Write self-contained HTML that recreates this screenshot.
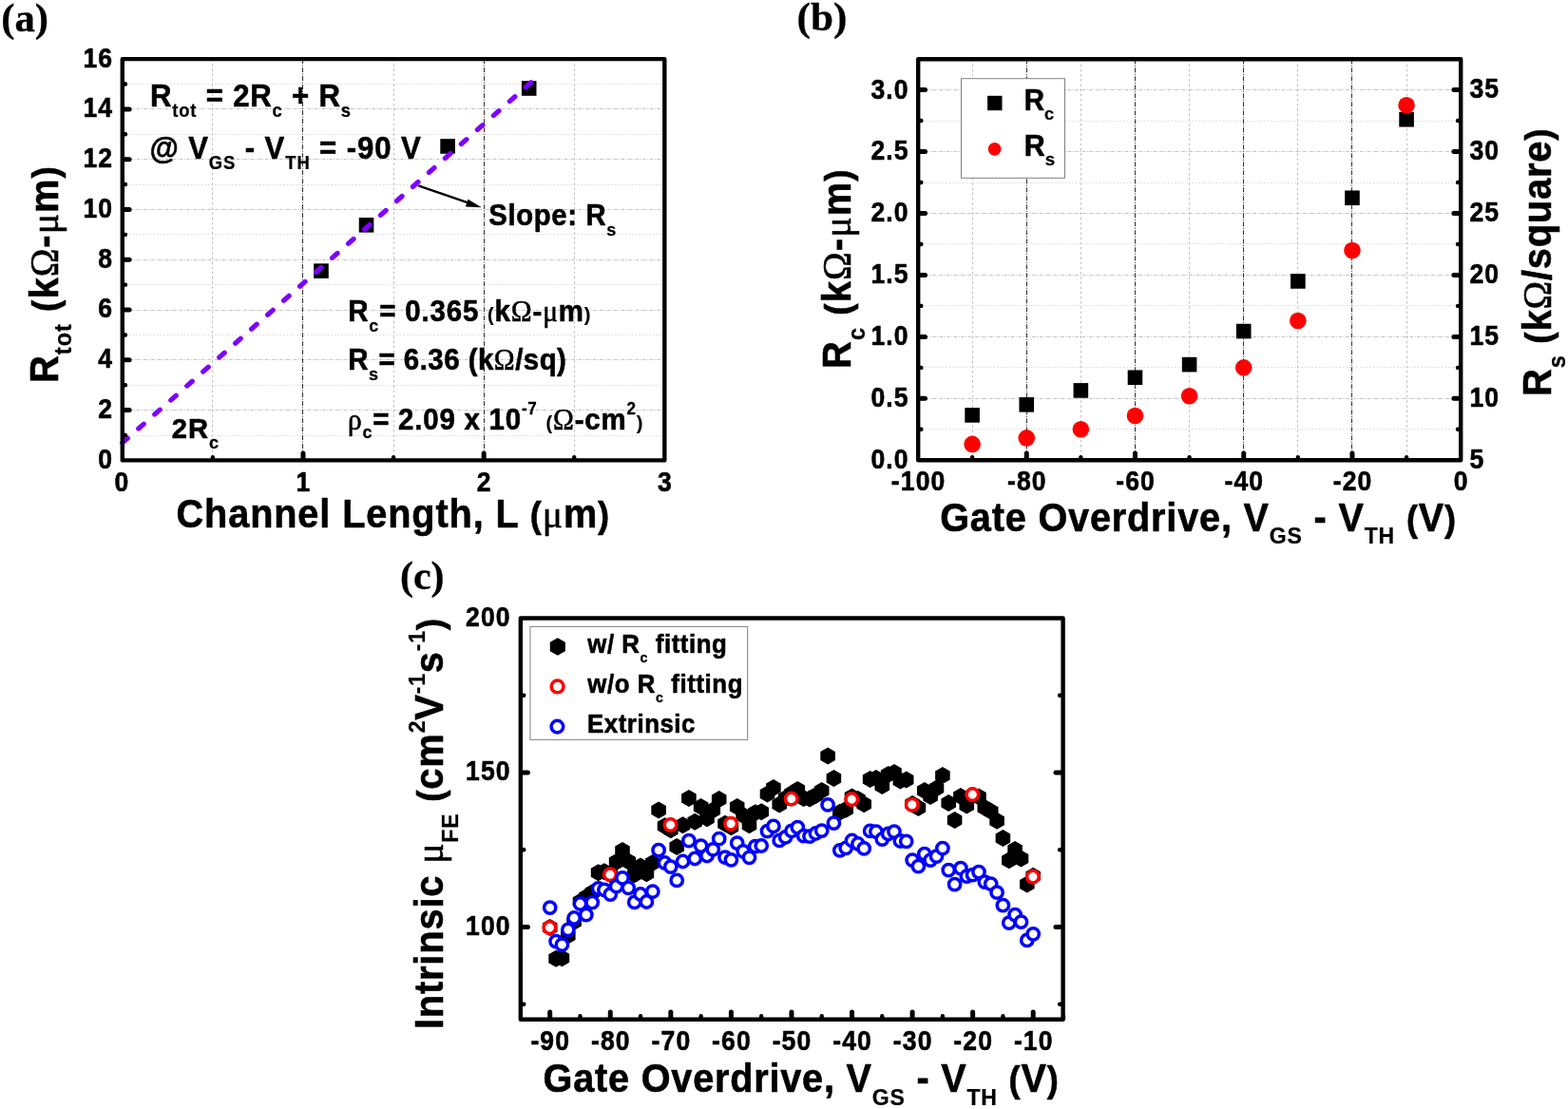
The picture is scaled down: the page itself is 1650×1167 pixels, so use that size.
<!DOCTYPE html>
<html lang="en">
<head>
<meta charset="utf-8">
<title>Contact resistance, sheet resistance and field-effect mobility</title>
<style>
html,body{margin:0;padding:0;background:#fff;}
body{width:1650px;height:1167px;overflow:hidden;}
svg{display:block;}
text{fill:#000;white-space:pre;}
</style>
</head>
<body>
<svg width="1650" height="1167" viewBox="0 0 1650 1167">
<rect width="1650" height="1167" fill="#fff"/>
<g id="panel-a">
<path d="M128.8 458.5H699.3M128.8 405.5H699.3M128.8 352.5H699.3M128.8 299.5H699.3M128.8 246.5H699.3M128.8 194.5H699.3M128.8 141.5H699.3M128.8 88.5H699.3" stroke="#dcdcdc" stroke-width="1" stroke-dasharray="1.6 2" stroke-dashoffset="0" fill="none"/>
<path d="M128.8 431.5H699.3M128.8 378.5H699.3M128.8 326.5H699.3M128.8 273.5H699.3M128.8 220.5H699.3M128.8 167.5H699.3M128.8 114.5H699.3" stroke="#c2c2c2" stroke-width="1" stroke-dasharray="3.5 1.5 1 1.5" stroke-dashoffset="0" fill="none"/>
<path d="M223.5 62.1V484.4M414.5 62.1V484.4M604.5 62.1V484.4" stroke="#c0c0c0" stroke-width="1" stroke-dasharray="2.6 2.6" stroke-dashoffset="0" fill="none"/>
<path d="M318.5 62.1V484.4M509.5 62.1V484.4" stroke="#2e2e2e" stroke-width="1" stroke-dasharray="5 1.5 1 1.5" stroke-dashoffset="0" fill="none"/>
<rect x="330.18" y="277.33" width="15.6" height="15.6" fill="#000"/>
<rect x="377.73" y="229.03" width="15.6" height="15.6" fill="#000"/>
<rect x="463.3" y="146.15" width="15.6" height="15.6" fill="#000"/>
<rect x="548.88" y="85.18" width="15.6" height="15.6" fill="#000"/>
<path d="M128.8 466.0L558.8 86.8" stroke="#7f00ff" stroke-width="5.2" stroke-linecap="round" stroke-dasharray="7.4 15.24" fill="none"/>
<rect x="128.8" y="62.1" width="570.5" height="422.3" fill="none" stroke="#000" stroke-width="4.4" stroke-linejoin="round"/>
<path d="M129.8 431.61h6.3M129.8 378.82h6.3M129.8 326.04h6.3M129.8 273.25h6.3M129.8 220.46h6.3M129.8 167.68h6.3M129.8 114.89h6.3" stroke="#000" stroke-width="5" stroke-linecap="round" fill="none"/>
<path d="M129.8 458.01h2.2M129.8 405.22h2.2M129.8 352.43h2.2M129.8 299.64h2.2M129.8 246.86h2.2M129.8 194.07h2.2M129.8 141.28h2.2M129.8 88.49h2.2" stroke="#000" stroke-width="4.4" stroke-linecap="round" fill="none"/>
<path d="M318.97 483.4v-6.3M509.13 483.4v-6.3" stroke="#000" stroke-width="5" stroke-linecap="round" fill="none"/>
<path d="M223.88 483.4v-2.2M414.05 483.4v-2.2M604.22 483.4v-2.2" stroke="#000" stroke-width="4.4" stroke-linecap="round" fill="none"/>
<text transform="translate(119.25 492.8) scale(0.885 1)" font-family="'Liberation Sans', sans-serif" font-size="30.0" font-weight="bold" text-anchor="end" letter-spacing="1.3" stroke="#000" stroke-width="0.6" stroke-linejoin="round">0</text>
<text transform="translate(119.25 440.01) scale(0.885 1)" font-family="'Liberation Sans', sans-serif" font-size="30.0" font-weight="bold" text-anchor="end" letter-spacing="1.3" stroke="#000" stroke-width="0.6" stroke-linejoin="round">2</text>
<text transform="translate(119.25 387.22) scale(0.885 1)" font-family="'Liberation Sans', sans-serif" font-size="30.0" font-weight="bold" text-anchor="end" letter-spacing="1.3" stroke="#000" stroke-width="0.6" stroke-linejoin="round">4</text>
<text transform="translate(119.25 334.44) scale(0.885 1)" font-family="'Liberation Sans', sans-serif" font-size="30.0" font-weight="bold" text-anchor="end" letter-spacing="1.3" stroke="#000" stroke-width="0.6" stroke-linejoin="round">6</text>
<text transform="translate(119.25 281.65) scale(0.885 1)" font-family="'Liberation Sans', sans-serif" font-size="30.0" font-weight="bold" text-anchor="end" letter-spacing="1.3" stroke="#000" stroke-width="0.6" stroke-linejoin="round">8</text>
<text transform="translate(119.25 228.86) scale(0.885 1)" font-family="'Liberation Sans', sans-serif" font-size="30.0" font-weight="bold" text-anchor="end" letter-spacing="1.3" stroke="#000" stroke-width="0.6" stroke-linejoin="round">10</text>
<text transform="translate(119.25 176.08) scale(0.885 1)" font-family="'Liberation Sans', sans-serif" font-size="30.0" font-weight="bold" text-anchor="end" letter-spacing="1.3" stroke="#000" stroke-width="0.6" stroke-linejoin="round">12</text>
<text transform="translate(119.25 123.29) scale(0.885 1)" font-family="'Liberation Sans', sans-serif" font-size="30.0" font-weight="bold" text-anchor="end" letter-spacing="1.3" stroke="#000" stroke-width="0.6" stroke-linejoin="round">14</text>
<text transform="translate(119.25 70.5) scale(0.885 1)" font-family="'Liberation Sans', sans-serif" font-size="30.0" font-weight="bold" text-anchor="end" letter-spacing="1.3" stroke="#000" stroke-width="0.6" stroke-linejoin="round">16</text>
<text transform="translate(128.38 516.6) scale(0.885 1)" font-family="'Liberation Sans', sans-serif" font-size="30.0" font-weight="bold" text-anchor="middle" letter-spacing="1.3" stroke="#000" stroke-width="0.6" stroke-linejoin="round">0</text>
<text transform="translate(319.54 516.6) scale(0.885 1)" font-family="'Liberation Sans', sans-serif" font-size="30.0" font-weight="bold" text-anchor="middle" letter-spacing="1.3" stroke="#000" stroke-width="0.6" stroke-linejoin="round">1</text>
<text transform="translate(509.71 516.6) scale(0.885 1)" font-family="'Liberation Sans', sans-serif" font-size="30.0" font-weight="bold" text-anchor="middle" letter-spacing="1.3" stroke="#000" stroke-width="0.6" stroke-linejoin="round">2</text>
<text transform="translate(699.88 516.6) scale(0.885 1)" font-family="'Liberation Sans', sans-serif" font-size="30.0" font-weight="bold" text-anchor="middle" letter-spacing="1.3" stroke="#000" stroke-width="0.6" stroke-linejoin="round">3</text>
<text transform="translate(185.55 554.6) scale(0.940 1)" font-family="'Liberation Sans', sans-serif" font-size="42.2" font-weight="bold" text-anchor="start" letter-spacing="0.95" stroke="#000" stroke-width="0.6" stroke-linejoin="round">Channel Length, L <tspan font-size="38.5">(</tspan><tspan font-family="'Liberation Serif', serif" font-weight="normal">μ</tspan>m<tspan font-size="38.5">)</tspan></text>
<text transform="translate(60.7 403) rotate(-90) scale(0.940 1)" font-family="'Liberation Sans', sans-serif" font-size="42.5" font-weight="bold" text-anchor="start" letter-spacing="1.08" stroke="#000" stroke-width="0.6" stroke-linejoin="round">R<tspan font-size="25" dy="13.9" stroke-width="0.25">tot</tspan><tspan dy="-13.9"> </tspan><tspan font-size="39.5">(</tspan>k<tspan font-family="'Liberation Serif', serif" font-weight="normal">Ω</tspan>-<tspan font-family="'Liberation Serif', serif" font-weight="normal">μ</tspan>m<tspan font-size="39.5">)</tspan></text>
<text transform="translate(1.25 32.5) scale(1.018 1)" font-family="'Liberation Serif', serif" font-size="42" font-weight="bold" text-anchor="start" stroke="#000" stroke-width="0.3" stroke-linejoin="round">(a)</text>
<text transform="translate(158.05 112) scale(0.930 1)" font-family="'Liberation Sans', sans-serif" font-size="33.5" font-weight="bold" text-anchor="start" letter-spacing="0.87" stroke="#000" stroke-width="0.6" stroke-linejoin="round">R<tspan font-size="19.8" dy="11.4" stroke-width="0.25">tot</tspan><tspan dy="-11.4"> = 2R</tspan><tspan font-size="19.8" dy="11.4" stroke-width="0.25">c</tspan><tspan dy="-11.4"> + R</tspan><tspan font-size="19.8" dy="11.4" stroke-width="0.25">s</tspan></text>
<text transform="translate(157.4 166.5) scale(0.930 1)" font-family="'Liberation Sans', sans-serif" font-size="33.5" font-weight="bold" text-anchor="start" letter-spacing="0.96" stroke="#000" stroke-width="0.6" stroke-linejoin="round">@ V<tspan font-size="19.8" dy="11.4" stroke-width="0.25">GS</tspan><tspan dy="-11.4"> - V</tspan><tspan font-size="19.8" dy="11.4" stroke-width="0.25">TH</tspan><tspan dy="-11.4"> = -90 V</tspan></text>
<text transform="translate(514.2 237.2) scale(0.950 1)" font-family="'Liberation Sans', sans-serif" font-size="30.8" font-weight="bold" text-anchor="start" letter-spacing="0.73" stroke="#000" stroke-width="0.6" stroke-linejoin="round">Slope: R<tspan font-size="19" dy="10.4" stroke-width="0.25">s</tspan></text>
<text transform="translate(366.25 338.2) scale(0.950 1)" font-family="'Liberation Sans', sans-serif" font-size="31" font-weight="bold" text-anchor="start" letter-spacing="0.88" stroke="#000" stroke-width="0.6" stroke-linejoin="round">R<tspan font-size="19" dy="11" stroke-width="0.25">c</tspan><tspan dy="-11">= 0.365 </tspan><tspan font-size="21" stroke-width="0.2">(</tspan>k<tspan font-family="'Liberation Serif', serif" font-weight="normal">Ω</tspan>-<tspan font-family="'Liberation Serif', serif" font-weight="normal">μ</tspan>m<tspan font-size="21" stroke-width="0.2">)</tspan></text>
<text transform="translate(366.25 389.2) scale(0.950 1)" font-family="'Liberation Sans', sans-serif" font-size="31" font-weight="bold" text-anchor="start" letter-spacing="0.5" stroke="#000" stroke-width="0.6" stroke-linejoin="round">R<tspan font-size="19" dy="11" stroke-width="0.25">s</tspan><tspan dy="-11">= 6.36 (k</tspan><tspan font-family="'Liberation Serif', serif" font-weight="normal">Ω</tspan>/sq)</text>
<text transform="translate(365.9 451.8) scale(0.950 1)" font-family="'Liberation Sans', sans-serif" font-size="31" font-weight="bold" text-anchor="start" letter-spacing="0.82" stroke="#000" stroke-width="0.6" stroke-linejoin="round"><tspan font-family="'Liberation Serif', serif" font-weight="normal">ρ</tspan><tspan font-size="19" dy="9.5" stroke-width="0.25">c</tspan><tspan dy="-9.5">= 2.09 x 10</tspan><tspan font-size="18" dy="-15.5" stroke-width="0.25">-7</tspan><tspan dy="15.5"> </tspan><tspan font-size="21" stroke-width="0.2">(</tspan><tspan font-family="'Liberation Serif', serif" font-weight="normal">Ω</tspan>-cm<tspan font-size="18" dy="-15.5" stroke-width="0.25">2</tspan><tspan font-size="21" stroke-width="0.2" dy="15.5">)</tspan></text>
<text transform="translate(180.85 461.1) scale(0.960 1)" font-family="'Liberation Sans', sans-serif" font-size="30.3" font-weight="bold" text-anchor="start" letter-spacing="1" stroke="#000" stroke-width="0.6" stroke-linejoin="round">2R<tspan font-size="19" dy="10.5" stroke-width="0.25">c</tspan></text>
<path d="M440.2 195.4L497 214.9" stroke="#000" stroke-width="2.2" fill="none"/>
<path d="M505.8 217.9L490.2 217.2L492.6 210.0Z" fill="#000" stroke="#000" stroke-width="0.5" stroke-linejoin="round"/>
</g>
<g id="panel-b">
<path d="M966.2 451.5H1537.2M966.2 386.5H1537.2M966.2 321.5H1537.2M966.2 256.5H1537.2M966.2 192.5H1537.2M966.2 127.5H1537.2" stroke="#dcdcdc" stroke-width="1" stroke-dasharray="1.6 2" stroke-dashoffset="0" fill="none"/>
<path d="M966.2 419.5H1537.2M966.2 354.5H1537.2M966.2 289.5H1537.2M966.2 224.5H1537.2M966.2 159.5H1537.2M966.2 94.5H1537.2" stroke="#c2c2c2" stroke-width="1" stroke-dasharray="3.5 1.5 1 1.5" stroke-dashoffset="0" fill="none"/>
<path d="M1023.5 62.3V484.3M1137.5 62.3V484.3M1251.5 62.3V484.3M1365.5 62.3V484.3M1480.5 62.3V484.3" stroke="#c0c0c0" stroke-width="1" stroke-dasharray="2.6 2.6" stroke-dashoffset="0" fill="none"/>
<path d="M1080.5 62.3V484.3M1194.5 62.3V484.3M1308.5 62.3V484.3M1422.5 62.3V484.3" stroke="#2e2e2e" stroke-width="1" stroke-dasharray="5 1.5 1 1.5" stroke-dashoffset="0" fill="none"/>
<rect x="1011.5" y="82.7" width="109" height="104.6" fill="#fff" stroke="#808080" stroke-width="1"/>
<rect x="1039.1" y="100.8" width="15.4" height="15.4" fill="#000"/>
<circle cx="1046.6" cy="156.8" r="6.9" fill="#f00"/>
<text transform="translate(1077.75 115.5) scale(0.957 1)" font-family="'Liberation Sans', sans-serif" font-size="30.8" font-weight="bold" text-anchor="start" stroke="#000" stroke-width="0.6" stroke-linejoin="round">R<tspan font-size="19" dy="10.3" stroke-width="0.25">c</tspan></text>
<text transform="translate(1077.75 163.6) scale(0.987 1)" font-family="'Liberation Sans', sans-serif" font-size="30.8" font-weight="bold" text-anchor="start" stroke="#000" stroke-width="0.6" stroke-linejoin="round">R<tspan font-size="19" dy="10.6" stroke-width="0.25">s</tspan></text>
<rect x="1015.32" y="429.09" width="15.6" height="15.6" fill="#000"/>
<rect x="1072.44" y="418.05" width="15.6" height="15.6" fill="#000"/>
<rect x="1129.56" y="403.11" width="15.6" height="15.6" fill="#000"/>
<rect x="1186.68" y="389.47" width="15.6" height="15.6" fill="#000"/>
<rect x="1243.8" y="375.83" width="15.6" height="15.6" fill="#000"/>
<rect x="1300.92" y="340.75" width="15.6" height="15.6" fill="#000"/>
<rect x="1358.04" y="288.14" width="15.6" height="15.6" fill="#000"/>
<rect x="1415.16" y="200.46" width="15.6" height="15.6" fill="#000"/>
<rect x="1472.28" y="117.98" width="15.6" height="15.6" fill="#000"/>
<circle cx="1023.12" cy="467.41" r="8.8" fill="#f00"/>
<circle cx="1080.24" cy="460.92" r="8.8" fill="#f00"/>
<circle cx="1137.36" cy="451.82" r="8.8" fill="#f00"/>
<circle cx="1194.48" cy="437.54" r="8.8" fill="#f00"/>
<circle cx="1251.6" cy="416.75" r="8.8" fill="#f00"/>
<circle cx="1308.72" cy="386.88" r="8.8" fill="#f00"/>
<circle cx="1365.84" cy="337.51" r="8.8" fill="#f00"/>
<circle cx="1422.96" cy="263.47" r="8.8" fill="#f00"/>
<circle cx="1480.08" cy="110.84" r="8.8" fill="#f00"/>
<rect x="966.2" y="62.3" width="571" height="422" fill="none" stroke="#000" stroke-width="4.4" stroke-linejoin="round"/>
<path d="M967.2 419.35h6.3M967.2 354.4h6.3M967.2 289.45h6.3M967.2 224.5h6.3M967.2 159.55h6.3M967.2 94.6h6.3" stroke="#000" stroke-width="5" stroke-linecap="round" fill="none"/>
<path d="M967.2 451.82h2.2M967.2 386.88h2.2M967.2 321.92h2.2M967.2 256.97h2.2M967.2 192.02h2.2M967.2 127.07h2.2" stroke="#000" stroke-width="4.4" stroke-linecap="round" fill="none"/>
<path d="M1536.2 419.35h-6.3M1536.2 354.4h-6.3M1536.2 289.45h-6.3M1536.2 224.5h-6.3M1536.2 159.55h-6.3M1536.2 94.6h-6.3" stroke="#000" stroke-width="5" stroke-linecap="round" fill="none"/>
<path d="M1536.2 451.82h-2.2M1536.2 386.88h-2.2M1536.2 321.92h-2.2M1536.2 256.97h-2.2M1536.2 192.02h-2.2M1536.2 127.07h-2.2" stroke="#000" stroke-width="4.4" stroke-linecap="round" fill="none"/>
<path d="M1080.24 483.3v-6.3M1194.48 483.3v-6.3M1308.72 483.3v-6.3M1422.96 483.3v-6.3" stroke="#000" stroke-width="5" stroke-linecap="round" fill="none"/>
<path d="M1023.12 483.3v-2.2M1137.36 483.3v-2.2M1251.6 483.3v-2.2M1365.84 483.3v-2.2M1480.08 483.3v-2.2" stroke="#000" stroke-width="4.4" stroke-linecap="round" fill="none"/>
<text transform="translate(956.75 493.2) scale(0.885 1)" font-family="'Liberation Sans', sans-serif" font-size="30.0" font-weight="bold" text-anchor="end" letter-spacing="1.3" stroke="#000" stroke-width="0.6" stroke-linejoin="round">0.0</text>
<text transform="translate(956.75 428.25) scale(0.885 1)" font-family="'Liberation Sans', sans-serif" font-size="30.0" font-weight="bold" text-anchor="end" letter-spacing="1.3" stroke="#000" stroke-width="0.6" stroke-linejoin="round">0.5</text>
<text transform="translate(956.75 363.3) scale(0.885 1)" font-family="'Liberation Sans', sans-serif" font-size="30.0" font-weight="bold" text-anchor="end" letter-spacing="1.3" stroke="#000" stroke-width="0.6" stroke-linejoin="round">1.0</text>
<text transform="translate(956.75 298.35) scale(0.885 1)" font-family="'Liberation Sans', sans-serif" font-size="30.0" font-weight="bold" text-anchor="end" letter-spacing="1.3" stroke="#000" stroke-width="0.6" stroke-linejoin="round">1.5</text>
<text transform="translate(956.75 233.4) scale(0.885 1)" font-family="'Liberation Sans', sans-serif" font-size="30.0" font-weight="bold" text-anchor="end" letter-spacing="1.3" stroke="#000" stroke-width="0.6" stroke-linejoin="round">2.0</text>
<text transform="translate(956.75 168.45) scale(0.885 1)" font-family="'Liberation Sans', sans-serif" font-size="30.0" font-weight="bold" text-anchor="end" letter-spacing="1.3" stroke="#000" stroke-width="0.6" stroke-linejoin="round">2.5</text>
<text transform="translate(956.75 103.5) scale(0.885 1)" font-family="'Liberation Sans', sans-serif" font-size="30.0" font-weight="bold" text-anchor="end" letter-spacing="1.3" stroke="#000" stroke-width="0.6" stroke-linejoin="round">3.0</text>
<text transform="translate(1546.4 492.7) scale(0.885 1)" font-family="'Liberation Sans', sans-serif" font-size="30.0" font-weight="bold" text-anchor="start" letter-spacing="1.3" stroke="#000" stroke-width="0.6" stroke-linejoin="round">5</text>
<text transform="translate(1546.4 427.75) scale(0.885 1)" font-family="'Liberation Sans', sans-serif" font-size="30.0" font-weight="bold" text-anchor="start" letter-spacing="1.3" stroke="#000" stroke-width="0.6" stroke-linejoin="round">10</text>
<text transform="translate(1546.4 362.8) scale(0.885 1)" font-family="'Liberation Sans', sans-serif" font-size="30.0" font-weight="bold" text-anchor="start" letter-spacing="1.3" stroke="#000" stroke-width="0.6" stroke-linejoin="round">15</text>
<text transform="translate(1546.4 297.85) scale(0.885 1)" font-family="'Liberation Sans', sans-serif" font-size="30.0" font-weight="bold" text-anchor="start" letter-spacing="1.3" stroke="#000" stroke-width="0.6" stroke-linejoin="round">20</text>
<text transform="translate(1546.4 232.9) scale(0.885 1)" font-family="'Liberation Sans', sans-serif" font-size="30.0" font-weight="bold" text-anchor="start" letter-spacing="1.3" stroke="#000" stroke-width="0.6" stroke-linejoin="round">25</text>
<text transform="translate(1546.4 167.95) scale(0.885 1)" font-family="'Liberation Sans', sans-serif" font-size="30.0" font-weight="bold" text-anchor="start" letter-spacing="1.3" stroke="#000" stroke-width="0.6" stroke-linejoin="round">30</text>
<text transform="translate(1546.4 103) scale(0.885 1)" font-family="'Liberation Sans', sans-serif" font-size="30.0" font-weight="bold" text-anchor="start" letter-spacing="1.3" stroke="#000" stroke-width="0.6" stroke-linejoin="round">35</text>
<text transform="translate(966.58 515.8) scale(0.885 1)" font-family="'Liberation Sans', sans-serif" font-size="30.0" font-weight="bold" text-anchor="middle" letter-spacing="1.3" stroke="#000" stroke-width="0.6" stroke-linejoin="round">-100</text>
<text transform="translate(1080.82 515.8) scale(0.885 1)" font-family="'Liberation Sans', sans-serif" font-size="30.0" font-weight="bold" text-anchor="middle" letter-spacing="1.3" stroke="#000" stroke-width="0.6" stroke-linejoin="round">-80</text>
<text transform="translate(1195.06 515.8) scale(0.885 1)" font-family="'Liberation Sans', sans-serif" font-size="30.0" font-weight="bold" text-anchor="middle" letter-spacing="1.3" stroke="#000" stroke-width="0.6" stroke-linejoin="round">-60</text>
<text transform="translate(1309.3 515.8) scale(0.885 1)" font-family="'Liberation Sans', sans-serif" font-size="30.0" font-weight="bold" text-anchor="middle" letter-spacing="1.3" stroke="#000" stroke-width="0.6" stroke-linejoin="round">-40</text>
<text transform="translate(1423.54 515.8) scale(0.885 1)" font-family="'Liberation Sans', sans-serif" font-size="30.0" font-weight="bold" text-anchor="middle" letter-spacing="1.3" stroke="#000" stroke-width="0.6" stroke-linejoin="round">-20</text>
<text transform="translate(1537.78 515.8) scale(0.885 1)" font-family="'Liberation Sans', sans-serif" font-size="30.0" font-weight="bold" text-anchor="middle" letter-spacing="1.3" stroke="#000" stroke-width="0.6" stroke-linejoin="round">0</text>
<text transform="translate(989.15 558.5) scale(0.940 1)" font-family="'Liberation Sans', sans-serif" font-size="42.2" font-weight="bold" text-anchor="start" letter-spacing="0.87" stroke="#000" stroke-width="0.6" stroke-linejoin="round">Gate Overdrive, V<tspan font-size="24.5" dy="13.6" stroke-width="0.25">GS</tspan><tspan dy="-13.6"> - V</tspan><tspan font-size="24.5" dy="13.6" stroke-width="0.25">TH</tspan><tspan dy="-13.6"> </tspan><tspan font-size="38.5">(</tspan>V<tspan font-size="38.5">)</tspan></text>
<text transform="translate(895.1 388) rotate(-90) scale(0.940 1)" font-family="'Liberation Sans', sans-serif" font-size="42.5" font-weight="bold" text-anchor="start" letter-spacing="1.16" stroke="#000" stroke-width="0.6" stroke-linejoin="round">R<tspan font-size="25" dy="14.5" stroke-width="0.25">c</tspan><tspan dy="-14.5"> </tspan><tspan font-size="39.5">(</tspan>k<tspan font-family="'Liberation Serif', serif" font-weight="normal">Ω</tspan>-<tspan font-family="'Liberation Serif', serif" font-weight="normal">μ</tspan>m<tspan font-size="39.5">)</tspan></text>
<text transform="translate(1631.9 416.9) rotate(-90) scale(0.940 1)" font-family="'Liberation Sans', sans-serif" font-size="42.5" font-weight="bold" text-anchor="start" letter-spacing="0.8" stroke="#000" stroke-width="0.6" stroke-linejoin="round">R<tspan font-size="25" dy="15.0" stroke-width="0.25">s</tspan><tspan dy="-15"> </tspan><tspan font-size="39.5">(</tspan>k<tspan font-family="'Liberation Serif', serif" font-weight="normal">Ω</tspan>/square<tspan font-size="39.5">)</tspan></text>
<text transform="translate(838.55 32.2) scale(1.031 1)" font-family="'Liberation Serif', serif" font-size="42" font-weight="bold" text-anchor="start" stroke="#000" stroke-width="0.3" stroke-linejoin="round">(b)</text>
</g>
<g id="panel-c">
<rect x="557.9" y="659.4" width="228.8" height="119" fill="#fff" stroke="#808080" stroke-width="1"/>
<g fill="#000">
<polygon points="578.7,967 570.91,971.5 570.91,980.5 578.7,985 586.49,980.5 586.49,971.5"/>
<polygon points="585.1,999.7 577.31,1004.2 577.31,1013.2 585.1,1017.7 592.89,1013.2 592.89,1004.2"/>
<polygon points="591.4,999.2 583.61,1003.7 583.61,1012.7 591.4,1017.2 599.19,1012.7 599.19,1003.7"/>
<polygon points="597.8,975.6 590.01,980.1 590.01,989.1 597.8,993.6 605.59,989.1 605.59,980.1"/>
<polygon points="604.1,961 596.31,965.5 596.31,974.5 604.1,979 611.89,974.5 611.89,965.5"/>
<polygon points="610.5,939.8 602.71,944.3 602.71,953.3 610.5,957.8 618.29,953.3 618.29,944.3"/>
<polygon points="616.8,935 609.01,939.5 609.01,948.5 616.8,953 624.59,948.5 624.59,939.5"/>
<polygon points="623.2,930.2 615.41,934.7 615.41,943.7 623.2,948.2 630.99,943.7 630.99,934.7"/>
<polygon points="629.6,909.2 621.81,913.7 621.81,922.7 629.6,927.2 637.39,922.7 637.39,913.7"/>
<polygon points="635.9,908.2 628.11,912.7 628.11,921.7 635.9,926.2 643.69,921.7 643.69,912.7"/>
<polygon points="642.3,911.2 634.51,915.7 634.51,924.7 642.3,929.2 650.09,924.7 650.09,915.7"/>
<polygon points="648.6,898.1 640.81,902.6 640.81,911.6 648.6,916.1 656.39,911.6 656.39,902.6"/>
<polygon points="655,886 647.21,890.5 647.21,899.5 655,904 662.79,899.5 662.79,890.5"/>
<polygon points="661.3,897.6 653.51,902.1 653.51,911.1 661.3,915.6 669.09,911.1 669.09,902.1"/>
<polygon points="667.7,911.2 659.91,915.7 659.91,924.7 667.7,929.2 675.49,924.7 675.49,915.7"/>
<polygon points="674,902.6 666.21,907.1 666.21,916.1 674,920.6 681.79,916.1 681.79,907.1"/>
<polygon points="680.4,910.2 672.61,914.7 672.61,923.7 680.4,928.2 688.19,923.7 688.19,914.7"/>
<polygon points="686.8,899.1 679.01,903.6 679.01,912.6 686.8,917.1 694.59,912.6 694.59,903.6"/>
<polygon points="693.1,843.6 685.31,848.1 685.31,857.1 693.1,861.6 700.89,857.1 700.89,848.1"/>
<polygon points="699.5,860.2 691.71,864.7 691.71,873.7 699.5,878.2 707.29,873.7 707.29,864.7"/>
<polygon points="705.8,864.2 698.01,868.7 698.01,877.7 705.8,882.2 713.59,877.7 713.59,868.7"/>
<polygon points="712.2,881.9 704.41,886.4 704.41,895.4 712.2,899.9 719.99,895.4 719.99,886.4"/>
<polygon points="718.5,859.2 710.71,863.7 710.71,872.7 718.5,877.2 726.29,872.7 726.29,863.7"/>
<polygon points="724.9,831.1 717.11,835.6 717.11,844.6 724.9,849.1 732.69,844.6 732.69,835.6"/>
<polygon points="731.2,855.7 723.41,860.2 723.41,869.2 731.2,873.7 738.99,869.2 738.99,860.2"/>
<polygon points="737.6,840.1 729.81,844.6 729.81,853.6 737.6,858.1 745.39,853.6 745.39,844.6"/>
<polygon points="744,852.2 736.21,856.7 736.21,865.7 744,870.2 751.79,865.7 751.79,856.7"/>
<polygon points="750.3,843.5 742.51,848 742.51,857 750.3,861.5 758.09,857 758.09,848"/>
<polygon points="756.7,832.1 748.91,836.6 748.91,845.6 756.7,850.1 764.49,845.6 764.49,836.6"/>
<polygon points="763,857.7 755.21,862.2 755.21,871.2 763,875.7 770.79,871.2 770.79,862.2"/>
<polygon points="769.4,861.2 761.61,865.7 761.61,874.7 769.4,879.2 777.19,874.7 777.19,865.7"/>
<polygon points="775.7,840.1 767.91,844.6 767.91,853.6 775.7,858.1 783.49,853.6 783.49,844.6"/>
<polygon points="782.1,849 774.31,853.5 774.31,862.5 782.1,867 789.89,862.5 789.89,853.5"/>
<polygon points="788.5,859.2 780.71,863.7 780.71,872.7 788.5,877.2 796.29,872.7 796.29,863.7"/>
<polygon points="794.8,846.2 787.01,850.7 787.01,859.7 794.8,864.2 802.59,859.7 802.59,850.7"/>
<polygon points="801.2,845.2 793.41,849.7 793.41,858.7 801.2,863.2 808.99,858.7 808.99,849.7"/>
<polygon points="807.5,826.6 799.71,831.1 799.71,840.1 807.5,844.6 815.29,840.1 815.29,831.1"/>
<polygon points="813.9,820.1 806.11,824.6 806.11,833.6 813.9,838.1 821.69,833.6 821.69,824.6"/>
<polygon points="820.2,837.4 812.41,841.9 812.41,850.9 820.2,855.4 827.99,850.9 827.99,841.9"/>
<polygon points="826.6,831 818.81,835.5 818.81,844.5 826.6,849 834.39,844.5 834.39,835.5"/>
<polygon points="833,826 825.21,830.5 825.21,839.5 833,844 840.79,839.5 840.79,830.5"/>
<polygon points="839.3,822.1 831.51,826.6 831.51,835.6 839.3,840.1 847.09,835.6 847.09,826.6"/>
<polygon points="845.7,831.1 837.91,835.6 837.91,844.6 845.7,849.1 853.49,844.6 853.49,835.6"/>
<polygon points="852,831.6 844.21,836.1 844.21,845.1 852,849.6 859.79,845.1 859.79,836.1"/>
<polygon points="858.4,828.1 850.61,832.6 850.61,841.6 858.4,846.1 866.19,841.6 866.19,832.6"/>
<polygon points="864.7,823.1 856.91,827.6 856.91,836.6 864.7,841.1 872.49,836.6 872.49,827.6"/>
<polygon points="871.1,786.5 863.31,791 863.31,800 871.1,804.5 878.89,800 878.89,791"/>
<polygon points="877.4,810.1 869.61,814.6 869.61,823.6 877.4,828.1 885.19,823.6 885.19,814.6"/>
<polygon points="883.8,845.7 876.01,850.2 876.01,859.2 883.8,863.7 891.59,859.2 891.59,850.2"/>
<polygon points="890.2,842.7 882.41,847.2 882.41,856.2 890.2,860.7 897.99,856.2 897.99,847.2"/>
<polygon points="896.5,829.6 888.71,834.1 888.71,843.1 896.5,847.6 904.29,843.1 904.29,834.1"/>
<polygon points="902.9,832 895.11,836.5 895.11,845.5 902.9,850 910.69,845.5 910.69,836.5"/>
<polygon points="909.2,837.2 901.41,841.7 901.41,850.7 909.2,855.2 916.99,850.7 916.99,841.7"/>
<polygon points="915.6,811.1 907.81,815.6 907.81,824.6 915.6,829.1 923.39,824.6 923.39,815.6"/>
<polygon points="921.9,810.1 914.11,814.6 914.11,823.6 921.9,828.1 929.69,823.6 929.69,814.6"/>
<polygon points="928.3,818.1 920.51,822.6 920.51,831.6 928.3,836.1 936.09,831.6 936.09,822.6"/>
<polygon points="934.7,806 926.91,810.5 926.91,819.5 934.7,824 942.49,819.5 942.49,810.5"/>
<polygon points="941,803.9 933.21,808.4 933.21,817.4 941,821.9 948.79,817.4 948.79,808.4"/>
<polygon points="947.4,812.6 939.61,817.1 939.61,826.1 947.4,830.6 955.19,826.1 955.19,817.1"/>
<polygon points="953.7,811.6 945.91,816.1 945.91,825.1 953.7,829.6 961.49,825.1 961.49,816.1"/>
<polygon points="960.1,837.1 952.31,841.6 952.31,850.6 960.1,855.1 967.89,850.6 967.89,841.6"/>
<polygon points="966.4,841.1 958.61,845.6 958.61,854.6 966.4,859.1 974.19,854.6 974.19,845.6"/>
<polygon points="972.8,823.1 965.01,827.6 965.01,836.6 972.8,841.1 980.59,836.6 980.59,827.6"/>
<polygon points="979.1,829.1 971.31,833.6 971.31,842.6 979.1,847.1 986.89,842.6 986.89,833.6"/>
<polygon points="985.5,820.6 977.71,825.1 977.71,834.1 985.5,838.6 993.29,834.1 993.29,825.1"/>
<polygon points="991.9,807.1 984.11,811.6 984.11,820.6 991.9,825.1 999.69,820.6 999.69,811.6"/>
<polygon points="998.2,836.1 990.41,840.6 990.41,849.6 998.2,854.1 1005.99,849.6 1005.99,840.6"/>
<polygon points="1004.6,853.9 996.81,858.4 996.81,867.4 1004.6,871.9 1012.39,867.4 1012.39,858.4"/>
<polygon points="1010.9,829.1 1003.11,833.6 1003.11,842.6 1010.9,847.1 1018.69,842.6 1018.69,833.6"/>
<polygon points="1017.3,838.6 1009.51,843.1 1009.51,852.1 1017.3,856.6 1025.09,852.1 1025.09,843.1"/>
<polygon points="1023.6,828.1 1015.81,832.6 1015.81,841.6 1023.6,846.1 1031.39,841.6 1031.39,832.6"/>
<polygon points="1030,829.6 1022.21,834.1 1022.21,843.1 1030,847.6 1037.79,843.1 1037.79,834.1"/>
<polygon points="1036.3,841.1 1028.51,845.6 1028.51,854.6 1036.3,859.1 1044.09,854.6 1044.09,845.6"/>
<polygon points="1042.7,844.7 1034.91,849.2 1034.91,858.2 1042.7,862.7 1050.49,858.2 1050.49,849.2"/>
<polygon points="1049.1,854.7 1041.31,859.2 1041.31,868.2 1049.1,872.7 1056.89,868.2 1056.89,859.2"/>
<polygon points="1055.4,873.1 1047.61,877.6 1047.61,886.6 1055.4,891.1 1063.19,886.6 1063.19,877.6"/>
<polygon points="1061.8,896.2 1054.01,900.7 1054.01,909.7 1061.8,914.2 1069.59,909.7 1069.59,900.7"/>
<polygon points="1068.1,885.1 1060.31,889.6 1060.31,898.6 1068.1,903.1 1075.89,898.6 1075.89,889.6"/>
<polygon points="1074.5,894.5 1066.71,899 1066.71,908 1074.5,912.5 1082.29,908 1082.29,899"/>
<polygon points="1080.8,921.6 1073.01,926.1 1073.01,935.1 1080.8,939.6 1088.59,935.1 1088.59,926.1"/>
<polygon points="1087.2,912.8 1079.41,917.3 1079.41,926.3 1087.2,930.8 1094.99,926.3 1094.99,917.3"/>
</g>
<g fill="#fff" stroke="#f00" stroke-width="3.5">
<circle cx="578.4" cy="976.1" r="6.3"/>
<circle cx="642" cy="920.2" r="6.3"/>
<circle cx="705.5" cy="868" r="6.3"/>
<circle cx="769.1" cy="866.7" r="6.3"/>
<circle cx="832.7" cy="840.6" r="6.3"/>
<circle cx="896.2" cy="841.1" r="6.3"/>
<circle cx="959.8" cy="846.8" r="6.3"/>
<circle cx="1023.3" cy="836.1" r="6.3"/>
<circle cx="1086.9" cy="922.6" r="6.3"/>
</g>
<g fill="#fff" stroke="#00f" stroke-width="3.5">
<circle cx="578.7" cy="955.1" r="6.15"/>
<circle cx="585.1" cy="990.7" r="6.15"/>
<circle cx="591.4" cy="994.2" r="6.15"/>
<circle cx="597.8" cy="978.3" r="6.15"/>
<circle cx="604.1" cy="966" r="6.15"/>
<circle cx="610.5" cy="951" r="6.15"/>
<circle cx="616.8" cy="962.7" r="6.15"/>
<circle cx="623.2" cy="949.7" r="6.15"/>
<circle cx="629.6" cy="934.8" r="6.15"/>
<circle cx="635.9" cy="936.3" r="6.15"/>
<circle cx="642.3" cy="941.1" r="6.15"/>
<circle cx="648.6" cy="932.7" r="6.15"/>
<circle cx="655" cy="923.8" r="6.15"/>
<circle cx="661.3" cy="934.3" r="6.15"/>
<circle cx="667.7" cy="949.4" r="6.15"/>
<circle cx="674" cy="941" r="6.15"/>
<circle cx="680.4" cy="949" r="6.15"/>
<circle cx="686.8" cy="938.2" r="6.15"/>
<circle cx="693.1" cy="894.7" r="6.15"/>
<circle cx="699.5" cy="908" r="6.15"/>
<circle cx="705.8" cy="912.1" r="6.15"/>
<circle cx="712.2" cy="926.4" r="6.15"/>
<circle cx="718.5" cy="906.5" r="6.15"/>
<circle cx="724.9" cy="884.7" r="6.15"/>
<circle cx="731.2" cy="903.5" r="6.15"/>
<circle cx="737.6" cy="890.1" r="6.15"/>
<circle cx="744" cy="900.5" r="6.15"/>
<circle cx="750.3" cy="893.8" r="6.15"/>
<circle cx="756.7" cy="882.7" r="6.15"/>
<circle cx="763" cy="902.2" r="6.15"/>
<circle cx="769.4" cy="904.8" r="6.15"/>
<circle cx="775.7" cy="887.2" r="6.15"/>
<circle cx="782.1" cy="895.8" r="6.15"/>
<circle cx="788.5" cy="902.3" r="6.15"/>
<circle cx="794.8" cy="890.7" r="6.15"/>
<circle cx="801.2" cy="890" r="6.15"/>
<circle cx="807.5" cy="874.6" r="6.15"/>
<circle cx="813.9" cy="869.4" r="6.15"/>
<circle cx="820.2" cy="884.4" r="6.15"/>
<circle cx="826.6" cy="880.9" r="6.15"/>
<circle cx="833" cy="874.4" r="6.15"/>
<circle cx="839.3" cy="870.6" r="6.15"/>
<circle cx="845.7" cy="879.6" r="6.15"/>
<circle cx="852" cy="880.1" r="6.15"/>
<circle cx="858.4" cy="877" r="6.15"/>
<circle cx="864.7" cy="874.1" r="6.15"/>
<circle cx="871.1" cy="846.9" r="6.15"/>
<circle cx="877.4" cy="866.1" r="6.15"/>
<circle cx="883.8" cy="894.8" r="6.15"/>
<circle cx="890.2" cy="892.3" r="6.15"/>
<circle cx="896.5" cy="884.5" r="6.15"/>
<circle cx="902.9" cy="888" r="6.15"/>
<circle cx="909.2" cy="892.8" r="6.15"/>
<circle cx="915.6" cy="874.4" r="6.15"/>
<circle cx="921.9" cy="875.1" r="6.15"/>
<circle cx="928.3" cy="883.1" r="6.15"/>
<circle cx="934.7" cy="877.4" r="6.15"/>
<circle cx="941" cy="875.1" r="6.15"/>
<circle cx="947.4" cy="885" r="6.15"/>
<circle cx="953.7" cy="885.3" r="6.15"/>
<circle cx="960.1" cy="905.1" r="6.15"/>
<circle cx="966.4" cy="911.6" r="6.15"/>
<circle cx="972.8" cy="898.6" r="6.15"/>
<circle cx="979.1" cy="905.1" r="6.15"/>
<circle cx="985.5" cy="901.1" r="6.15"/>
<circle cx="991.9" cy="892.6" r="6.15"/>
<circle cx="998.2" cy="915.6" r="6.15"/>
<circle cx="1004.6" cy="930.6" r="6.15"/>
<circle cx="1010.9" cy="913.6" r="6.15"/>
<circle cx="1017.3" cy="922.1" r="6.15"/>
<circle cx="1023.6" cy="920.6" r="6.15"/>
<circle cx="1030" cy="917.6" r="6.15"/>
<circle cx="1036.3" cy="928.1" r="6.15"/>
<circle cx="1042.7" cy="930.1" r="6.15"/>
<circle cx="1049.1" cy="939.2" r="6.15"/>
<circle cx="1055.4" cy="952.7" r="6.15"/>
<circle cx="1061.8" cy="971.2" r="6.15"/>
<circle cx="1068.1" cy="962.7" r="6.15"/>
<circle cx="1074.5" cy="970.2" r="6.15"/>
<circle cx="1080.8" cy="989.4" r="6.15"/>
<circle cx="1087.2" cy="982.8" r="6.15"/>
</g>
<polygon points="586.8,671.2 578.75,675.85 578.75,685.15 586.8,689.8 594.85,685.15 594.85,675.85" fill="#000"/>
<circle cx="586.6" cy="722.4" r="6.4" fill="#fff" stroke="#f00" stroke-width="3.5"/>
<circle cx="586.4" cy="764.6" r="6.3" fill="#fff" stroke="#00f" stroke-width="3.5"/>
<text transform="translate(618.25 686.9) scale(0.950 1)" font-family="'Liberation Sans', sans-serif" font-size="27.2" font-weight="bold" text-anchor="start" letter-spacing="0.58" stroke="#000" stroke-width="0.6" stroke-linejoin="round">w/ R<tspan font-size="15" dy="9.8" stroke-width="0.25">c</tspan><tspan dy="-9.8"> fitting</tspan></text>
<text transform="translate(618.25 729) scale(0.950 1)" font-family="'Liberation Sans', sans-serif" font-size="27.2" font-weight="bold" text-anchor="start" letter-spacing="0.61" stroke="#000" stroke-width="0.6" stroke-linejoin="round">w/o R<tspan font-size="15" dy="9.8" stroke-width="0.25">c</tspan><tspan dy="-9.8"> fitting</tspan></text>
<text transform="translate(618.1 771.3) scale(0.950 1)" font-family="'Liberation Sans', sans-serif" font-size="27.2" font-weight="bold" text-anchor="start" letter-spacing="0.55" stroke="#000" stroke-width="0.6" stroke-linejoin="round">Extrinsic</text>
<rect x="547.8" y="650.5" width="570.8" height="422.2" fill="none" stroke="#000" stroke-width="4.4" stroke-linejoin="round"/>
<path d="M548.8 975.5h6.6M548.8 813h6.6" stroke="#000" stroke-width="5" stroke-linecap="round" fill="none"/>
<path d="M548.8 1056.75h2.5M548.8 894.25h2.5M548.8 731.75h2.5" stroke="#000" stroke-width="4.4" stroke-linecap="round" fill="none"/>
<path d="M1117.6 975.5h-6.6M1117.6 813h-6.6" stroke="#000" stroke-width="5" stroke-linecap="round" fill="none"/>
<path d="M1117.6 1056.75h-2.5M1117.6 894.25h-2.5M1117.6 731.75h-2.5" stroke="#000" stroke-width="4.4" stroke-linecap="round" fill="none"/>
<path d="M578.7 1071.7v-6.6M642.26 1071.7v-6.6M705.83 1071.7v-6.6M769.39 1071.7v-6.6M832.95 1071.7v-6.6M896.51 1071.7v-6.6M960.08 1071.7v-6.6M1023.64 1071.7v-6.6M1087.2 1071.7v-6.6" stroke="#000" stroke-width="5" stroke-linecap="round" fill="none"/>
<path d="M610.48 1071.7v-2.5M674.04 1071.7v-2.5M737.61 1071.7v-2.5M801.17 1071.7v-2.5M864.73 1071.7v-2.5M928.29 1071.7v-2.5M991.86 1071.7v-2.5M1055.42 1071.7v-2.5M1118.98 1071.7v-2.5" stroke="#000" stroke-width="4.4" stroke-linecap="round" fill="none"/>
<text transform="translate(537.75 983.8) scale(0.885 1)" font-family="'Liberation Sans', sans-serif" font-size="30.0" font-weight="bold" text-anchor="end" letter-spacing="1.3" stroke="#000" stroke-width="0.6" stroke-linejoin="round">100</text>
<text transform="translate(537.75 821.3) scale(0.885 1)" font-family="'Liberation Sans', sans-serif" font-size="30.0" font-weight="bold" text-anchor="end" letter-spacing="1.3" stroke="#000" stroke-width="0.6" stroke-linejoin="round">150</text>
<text transform="translate(537.75 658.8) scale(0.885 1)" font-family="'Liberation Sans', sans-serif" font-size="30.0" font-weight="bold" text-anchor="end" letter-spacing="1.3" stroke="#000" stroke-width="0.6" stroke-linejoin="round">200</text>
<text transform="translate(579.28 1105.1) scale(0.885 1)" font-family="'Liberation Sans', sans-serif" font-size="30.0" font-weight="bold" text-anchor="middle" letter-spacing="1.3" stroke="#000" stroke-width="0.6" stroke-linejoin="round">-90</text>
<text transform="translate(642.84 1105.1) scale(0.885 1)" font-family="'Liberation Sans', sans-serif" font-size="30.0" font-weight="bold" text-anchor="middle" letter-spacing="1.3" stroke="#000" stroke-width="0.6" stroke-linejoin="round">-80</text>
<text transform="translate(706.4 1105.1) scale(0.885 1)" font-family="'Liberation Sans', sans-serif" font-size="30.0" font-weight="bold" text-anchor="middle" letter-spacing="1.3" stroke="#000" stroke-width="0.6" stroke-linejoin="round">-70</text>
<text transform="translate(769.96 1105.1) scale(0.885 1)" font-family="'Liberation Sans', sans-serif" font-size="30.0" font-weight="bold" text-anchor="middle" letter-spacing="1.3" stroke="#000" stroke-width="0.6" stroke-linejoin="round">-60</text>
<text transform="translate(833.53 1105.1) scale(0.885 1)" font-family="'Liberation Sans', sans-serif" font-size="30.0" font-weight="bold" text-anchor="middle" letter-spacing="1.3" stroke="#000" stroke-width="0.6" stroke-linejoin="round">-50</text>
<text transform="translate(897.09 1105.1) scale(0.885 1)" font-family="'Liberation Sans', sans-serif" font-size="30.0" font-weight="bold" text-anchor="middle" letter-spacing="1.3" stroke="#000" stroke-width="0.6" stroke-linejoin="round">-40</text>
<text transform="translate(960.65 1105.1) scale(0.885 1)" font-family="'Liberation Sans', sans-serif" font-size="30.0" font-weight="bold" text-anchor="middle" letter-spacing="1.3" stroke="#000" stroke-width="0.6" stroke-linejoin="round">-30</text>
<text transform="translate(1024.21 1105.1) scale(0.885 1)" font-family="'Liberation Sans', sans-serif" font-size="30.0" font-weight="bold" text-anchor="middle" letter-spacing="1.3" stroke="#000" stroke-width="0.6" stroke-linejoin="round">-20</text>
<text transform="translate(1087.78 1105.1) scale(0.885 1)" font-family="'Liberation Sans', sans-serif" font-size="30.0" font-weight="bold" text-anchor="middle" letter-spacing="1.3" stroke="#000" stroke-width="0.6" stroke-linejoin="round">-10</text>
<text transform="translate(571.55 1149.4) scale(0.940 1)" font-family="'Liberation Sans', sans-serif" font-size="42.2" font-weight="bold" text-anchor="start" letter-spacing="0.84" stroke="#000" stroke-width="0.6" stroke-linejoin="round">Gate Overdrive, V<tspan font-size="24.5" dy="13.6" stroke-width="0.25">GS</tspan><tspan dy="-13.6"> - V</tspan><tspan font-size="24.5" dy="13.6" stroke-width="0.25">TH</tspan><tspan dy="-13.6"> </tspan><tspan font-size="38.5">(</tspan>V<tspan font-size="38.5">)</tspan></text>
<text transform="translate(466.2 1083.1) rotate(-90) scale(0.940 1)" font-family="'Liberation Sans', sans-serif" font-size="42.5" font-weight="bold" text-anchor="start" letter-spacing="0.83" stroke="#000" stroke-width="0.6" stroke-linejoin="round">Intrinsic <tspan font-family="'Liberation Serif', serif" font-weight="normal">μ</tspan><tspan font-size="24.5" dy="15.3" stroke-width="0.25">FE</tspan><tspan dy="-15.3"> </tspan><tspan font-size="39.5">(</tspan>cm<tspan font-size="24.5" dy="-19.6" stroke-width="0.25">2</tspan><tspan dy="19.6">V</tspan><tspan font-size="24.5" dy="-19.6" stroke-width="0.25">-1</tspan><tspan dy="19.6">s</tspan><tspan font-size="24.5" dy="-19.6" stroke-width="0.25">-1</tspan><tspan font-size="39.5" dy="19.6">)</tspan></text>
<text transform="translate(420.95 619.9) scale(0.999 1)" font-family="'Liberation Serif', serif" font-size="42" font-weight="bold" text-anchor="start" stroke="#000" stroke-width="0.3" stroke-linejoin="round">(c)</text>
</g>
</svg>
</body>
</html>
